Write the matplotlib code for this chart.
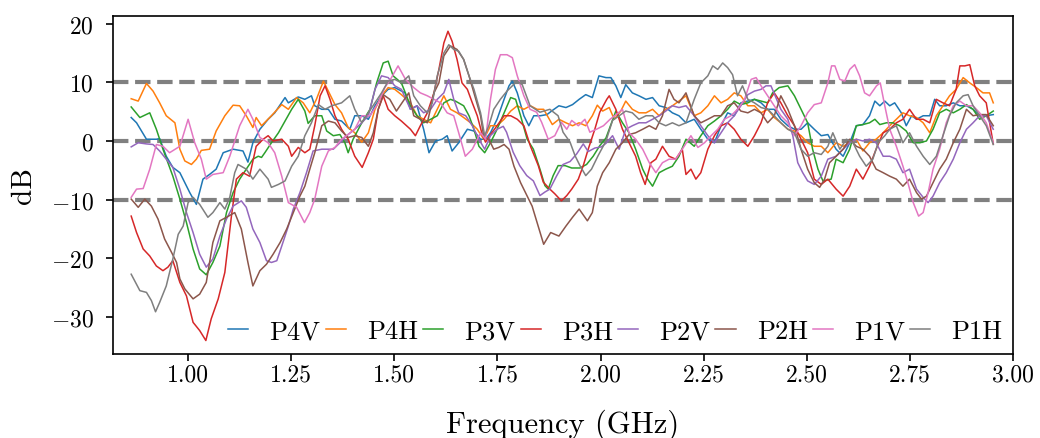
import matplotlib
matplotlib.use("Agg")
import matplotlib.pyplot as plt

plt.rcParams['font.family'] = 'serif'
plt.rcParams['font.serif'] = ['cmr10']
plt.rcParams['mathtext.fontset'] = 'cm'
plt.rcParams['axes.formatter.use_mathtext'] = True
plt.rcParams['axes.unicode_minus'] = True

labels = ["P4V", "P4H", "P3V", "P3H", "P2V", "P2H", "P1V", "P1H"]
colors = ["C0", "C1", "C2", "C3", "C4", "C5", "C6", "C7"]
x_ticks = [1.00, 1.25, 1.50, 1.75, 2.00, 2.25, 2.50, 2.75, 3.00]
y_ticks = [-30, -20, -10, 0, 10, 20]
ref_levels = [-10, 0, 10]

# (frequency GHz, dB) pairs
p4v = [(0.862,4.0),(0.875,3.1),(0.899,0.3),(0.923,0.3),(0.931,0.4),(0.947,-2.6),(0.963,-4.5),(0.980,-5.4),(1.004,-8.8),(1.020,-10.8),(1.036,-6.5),(1.052,-5.7),(1.068,-4.8),(1.085,-2.0),(1.109,-1.4),(1.133,-1.7),(1.145,-3.6),(1.157,-0.3),(1.174,2.0),(1.194,3.7),(1.210,4.8),(1.235,7.4),(1.243,6.5),(1.267,7.5),(1.283,7.1),(1.299,7.7),(1.307,6.0),(1.324,5.4),(1.340,5.4),(1.356,3.7),(1.372,3.4),(1.392,2.0),(1.404,4.3),(1.421,4.3),(1.437,3.7),(1.453,6.0),(1.469,7.7),(1.485,8.8),(1.501,9.1),(1.526,8.2),(1.539,5.4),(1.555,6.0),(1.571,2.0),(1.584,-2.0),(1.600,0.0),(1.616,0.3),(1.628,0.9),(1.640,-1.7),(1.656,-0.3),(1.677,2.0),(1.693,1.7),(1.709,0.3),(1.721,0.3),(1.733,1.4),(1.749,3.7),(1.766,7.1),(1.778,9.4),(1.786,10.2),(1.798,8.2),(1.814,4.3),(1.826,2.6),(1.838,4.3),(1.854,4.3),(1.870,4.5),(1.883,5.2),(1.899,6.0),(1.916,5.7),(1.932,6.2),(1.948,7.1),(1.964,7.9),(1.980,7.4),(1.996,11.1),(2.013,10.8),(2.025,10.8),(2.037,9.4),(2.049,7.4),(2.061,9.6),(2.077,8.2),(2.093,7.7),(2.110,7.1),(2.126,7.4),(2.142,6.0),(2.158,5.7),(2.174,4.8),(2.190,4.3),(2.207,3.1),(2.227,3.7),(2.243,2.0),(2.260,0.3),(2.276,-0.3),(2.292,2.6),(2.308,4.8),(2.324,4.3),(2.340,6.5),(2.357,6.8),(2.373,7.1),(2.389,6.5),(2.405,5.4),(2.421,5.4),(2.437,3.7),(2.454,2.6),(2.470,2.0),(2.486,2.0),(2.502,3.1),(2.518,2.0),(2.535,0.9),(2.551,1.1),(2.571,-1.4),(2.588,-2.6),(2.604,-0.3),(2.620,2.6),(2.636,2.8),(2.652,4.3),(2.665,6.8),(2.677,6.0),(2.689,6.8),(2.701,6.0),(2.713,6.5),(2.729,4.8),(2.741,2.6),(2.754,4.3),(2.766,3.7),(2.782,4.3),(2.798,4.3),(2.810,7.1),(2.822,6.0),(2.838,6.0),(2.855,6.5),(2.871,6.0),(2.887,6.0),(2.903,5.4),(2.919,4.3),(2.935,4.3),(2.952,4.5)]

p4h = [(0.862,7.2),(0.879,6.8),(0.899,9.8),(0.915,8.5),(0.931,6.5),(0.947,4.3),(0.968,3.1),(0.980,-1.4),(0.992,-3.4),(1.008,-4.0),(1.020,-3.1),(1.032,-1.6),(1.052,-1.4),(1.068,1.7),(1.089,4.3),(1.109,6.1),(1.125,6.0),(1.141,4.3),(1.157,2.3),(1.165,4.0),(1.178,2.6),(1.202,4.3),(1.227,6.2),(1.243,5.4),(1.263,7.4),(1.279,6.5),(1.295,4.8),(1.311,7.1),(1.328,10.2),(1.340,8.5),(1.356,6.2),(1.372,4.8),(1.388,2.3),(1.404,1.4),(1.421,-0.2),(1.437,1.4),(1.453,5.4),(1.469,7.7),(1.485,9.1),(1.501,8.8),(1.517,7.9),(1.539,6.5),(1.555,4.3),(1.571,3.7),(1.588,3.1),(1.604,5.4),(1.620,7.7),(1.636,5.4),(1.652,4.8),(1.668,4.0),(1.685,3.1),(1.701,2.0),(1.717,0.3),(1.733,2.6),(1.749,2.6),(1.766,3.7),(1.782,5.1),(1.798,6.0),(1.814,5.4),(1.830,6.0),(1.846,5.4),(1.862,5.4),(1.883,2.8),(1.899,3.7),(1.916,3.1),(1.932,2.6),(1.948,3.1),(1.964,2.6),(1.980,4.3),(1.992,6.1),(2.005,5.1),(2.021,5.7),(2.033,3.7),(2.049,5.1),(2.061,6.8),(2.077,5.4),(2.093,4.8),(2.110,4.8),(2.126,5.4),(2.142,4.3),(2.158,5.4),(2.174,6.0),(2.190,6.8),(2.207,7.7),(2.227,4.3),(2.243,4.8),(2.260,6.0),(2.276,7.7),(2.292,6.5),(2.308,7.1),(2.324,8.2),(2.340,7.7),(2.357,6.0),(2.373,6.0),(2.389,4.8),(2.405,5.4),(2.421,4.0),(2.437,3.1),(2.454,2.0),(2.470,1.7),(2.486,0.9),(2.502,-0.3),(2.518,-0.9),(2.535,-0.9),(2.551,-2.0),(2.571,-0.3),(2.588,-0.9),(2.604,-0.3),(2.620,0.3),(2.636,-1.7),(2.652,-0.3),(2.668,0.3),(2.685,1.4),(2.701,2.6),(2.717,3.7),(2.733,4.8),(2.749,4.3),(2.766,4.0),(2.782,3.1),(2.798,1.4),(2.814,4.3),(2.830,6.0),(2.846,7.7),(2.862,8.8),(2.879,10.8),(2.895,9.9),(2.911,9.1),(2.927,8.2),(2.943,8.2),(2.952,6.5)]

p3v = [(0.862,5.8),(0.883,4.0),(0.907,4.8),(0.923,2.0),(0.939,-1.4),(0.963,-6.0),(0.980,-9.9),(0.996,-13.9),(1.012,-18.4),(1.028,-21.8),(1.044,-22.8),(1.060,-20.7),(1.077,-17.9),(1.093,-12.2),(1.109,-8.8),(1.125,-6.5),(1.141,-4.8),(1.157,-3.1),(1.170,-2.6),(1.178,-2.8),(1.186,-2.0),(1.202,-0.3),(1.219,1.4),(1.235,3.4),(1.251,5.4),(1.267,7.1),(1.283,5.1),(1.291,3.0),(1.307,4.3),(1.324,4.3),(1.336,1.7),(1.352,0.9),(1.368,1.1),(1.380,-0.3),(1.388,-2.0),(1.400,0.3),(1.421,3.1),(1.441,5.4),(1.457,9.9),(1.473,13.3),(1.485,13.6),(1.497,11.1),(1.517,9.9),(1.539,6.0),(1.555,4.3),(1.571,3.1),(1.588,3.7),(1.604,4.3),(1.620,6.5),(1.636,7.1),(1.648,6.8),(1.668,6.0),(1.681,4.3),(1.693,2.0),(1.705,-0.9),(1.719,-2.0),(1.733,-0.3),(1.749,2.0),(1.766,4.8),(1.782,7.4),(1.794,7.1),(1.806,4.3),(1.822,0.3),(1.837,-1.4),(1.853,-4.8),(1.865,-7.6),(1.873,-8.2),(1.885,-5.9),(1.897,-4.2),(1.914,-4.2),(1.930,-4.6),(1.950,-4.6),(1.966,-4.0),(1.982,-2.6),(1.998,-0.8),(2.013,0.5),(2.025,2.8),(2.037,5.1),(2.053,3.1),(2.069,1.4),(2.085,-1.4),(2.102,-4.8),(2.114,-6.5),(2.126,-7.7),(2.142,-5.4),(2.158,-4.8),(2.174,-4.3),(2.190,-2.6),(2.207,0.3),(2.227,-0.9),(2.243,0.9),(2.260,2.6),(2.276,3.4),(2.292,4.3),(2.308,5.4),(2.324,6.8),(2.340,6.2),(2.357,6.5),(2.373,7.1),(2.389,6.8),(2.405,6.5),(2.417,8.2),(2.433,9.1),(2.454,9.4),(2.470,7.7),(2.486,5.4),(2.502,3.1),(2.514,-1.4),(2.527,-4.8),(2.539,-6.8),(2.559,-6.5),(2.571,-3.1),(2.588,-3.7),(2.604,-1.4),(2.620,2.6),(2.636,2.8),(2.652,3.1),(2.665,3.7),(2.677,2.8),(2.693,3.1),(2.709,3.1),(2.725,2.6),(2.741,1.7),(2.758,-0.3),(2.774,-0.3),(2.790,0.0),(2.806,2.0),(2.822,4.8),(2.838,5.4),(2.855,4.8),(2.871,5.4),(2.887,6.2),(2.903,5.4),(2.919,3.7),(2.935,4.3),(2.952,5.1)]

p3h = [(0.862,-12.8),(0.875,-15.6),(0.891,-18.4),(0.907,-19.6),(0.923,-21.3),(0.939,-22.1),(0.951,-21.5),(0.963,-20.4),(0.980,-24.1),(0.996,-26.4),(1.012,-30.9),(1.028,-32.3),(1.043,-34.0),(1.056,-30.3),(1.073,-26.9),(1.089,-22.4),(1.105,-12.8),(1.117,-6.5),(1.133,-5.4),(1.149,-6.0),(1.165,-0.9),(1.182,0.3),(1.194,0.9),(1.206,0.0),(1.227,0.3),(1.243,-0.9),(1.251,-2.6),(1.267,-1.1),(1.283,-2.0),(1.295,-1.4),(1.307,2.6),(1.320,7.7),(1.332,9.4),(1.344,7.1),(1.356,4.3),(1.372,2.0),(1.388,0.3),(1.404,-2.6),(1.422,-4.5),(1.437,-2.0),(1.449,0.3),(1.461,5.4),(1.473,7.7),(1.485,5.4),(1.501,4.3),(1.517,3.4),(1.539,2.0),(1.551,0.9),(1.563,2.6),(1.580,4.8),(1.596,8.2),(1.608,12.2),(1.620,16.7),(1.630,18.7),(1.640,17.0),(1.652,13.9),(1.664,9.9),(1.677,8.8),(1.689,6.5),(1.701,4.3),(1.713,1.1),(1.721,-0.2),(1.733,1.1),(1.749,2.6),(1.766,4.3),(1.782,4.3),(1.798,3.7),(1.814,2.6),(1.830,-0.9),(1.849,-4.2),(1.861,-7.0),(1.877,-8.2),(1.889,-9.0),(1.905,-10.2),(1.918,-9.3),(1.930,-8.2),(1.946,-6.5),(1.958,-4.2),(1.970,-1.4),(1.986,2.0),(1.998,4.9),(2.015,7.1),(2.021,7.7),(2.037,5.4),(2.053,2.0),(2.069,-0.3),(2.085,-2.6),(2.097,-5.4),(2.108,-7.4),(2.122,-3.7),(2.134,-3.1),(2.150,-0.9),(2.166,-2.6),(2.182,-3.1),(2.198,-1.4),(2.207,-5.7),(2.219,-4.8),(2.231,-6.5),(2.243,-5.4),(2.260,-1.4),(2.276,0.9),(2.292,2.6),(2.308,3.1),(2.324,2.0),(2.340,0.3),(2.357,-0.9),(2.373,0.9),(2.389,3.1),(2.405,6.5),(2.421,8.2),(2.437,6.5),(2.454,4.3),(2.470,2.6),(2.486,0.3),(2.502,-2.0),(2.518,-6.5),(2.535,-7.4),(2.551,-6.5),(2.571,-8.2),(2.588,-9.4),(2.604,-7.7),(2.620,-4.8),(2.636,-6.5),(2.652,-4.3),(2.668,-1.4),(2.685,1.4),(2.701,2.0),(2.717,3.1),(2.733,3.7),(2.749,5.4),(2.766,3.7),(2.782,3.7),(2.798,3.1),(2.814,7.1),(2.830,6.5),(2.846,6.0),(2.862,8.8),(2.871,12.8),(2.883,12.8),(2.895,13.0),(2.907,9.4),(2.919,7.7),(2.935,6.5),(2.952,-0.5)]

p2v = [(0.862,-1.0),(0.879,-0.3),(0.899,-0.5),(0.915,-0.6),(0.931,-1.7),(0.947,-3.1),(0.963,-4.5),(0.980,-8.2),(0.996,-12.2),(1.012,-15.6),(1.028,-19.3),(1.044,-21.5),(1.060,-20.1),(1.077,-16.2),(1.093,-13.3),(1.109,-11.1),(1.129,-10.2),(1.141,-11.3),(1.157,-15.0),(1.174,-17.3),(1.190,-20.4),(1.202,-20.7),(1.215,-20.4),(1.227,-17.9),(1.243,-14.5),(1.255,-11.6),(1.271,-8.8),(1.287,-5.4),(1.303,-1.7),(1.324,-1.4),(1.336,-1.4),(1.352,-1.4),(1.368,-0.3),(1.384,0.9),(1.404,2.0),(1.421,3.1),(1.437,4.3),(1.453,8.8),(1.469,11.1),(1.485,10.8),(1.501,9.4),(1.517,8.8),(1.539,5.4),(1.555,6.0),(1.571,4.8),(1.588,5.4),(1.604,7.1),(1.620,8.2),(1.632,10.5),(1.644,7.1),(1.656,4.8),(1.673,4.3),(1.689,2.6),(1.705,0.3),(1.719,-1.4),(1.733,0.9),(1.749,2.0),(1.764,2.5),(1.772,1.5),(1.788,-1.9),(1.804,-4.2),(1.821,-5.9),(1.837,-6.8),(1.853,-9.3),(1.865,-8.7),(1.877,-8.2),(1.893,-6.0),(1.909,-4.0),(1.926,-3.5),(1.942,-2.2),(1.958,-0.5),(1.970,-1.8),(1.986,-1.2),(2.002,-1.0),(2.013,-0.4),(2.029,0.9),(2.045,-1.4),(2.061,2.0),(2.077,2.6),(2.093,3.1),(2.110,3.1),(2.126,3.7),(2.142,4.3),(2.158,5.1),(2.174,6.0),(2.190,5.7),(2.207,6.0),(2.227,4.3),(2.243,2.6),(2.260,0.9),(2.276,-0.3),(2.292,1.4),(2.308,3.1),(2.324,4.3),(2.340,6.0),(2.357,7.9),(2.373,8.5),(2.389,8.8),(2.401,9.4),(2.413,9.4),(2.425,7.4),(2.437,5.4),(2.454,3.7),(2.466,0.9),(2.478,-3.7),(2.490,-5.4),(2.502,-6.8),(2.518,-7.4),(2.535,-6.0),(2.551,-3.1),(2.571,-2.6),(2.588,-1.4),(2.604,-0.3),(2.620,0.3),(2.636,0.0),(2.652,0.3),(2.668,-0.3),(2.685,-2.6),(2.701,-2.6),(2.717,-3.1),(2.733,-5.4),(2.749,-4.8),(2.766,-8.2),(2.782,-9.6),(2.794,-10.5),(2.806,-9.4),(2.822,-7.1),(2.838,-5.4),(2.855,-3.1),(2.871,-0.3),(2.887,2.0),(2.903,3.1),(2.919,4.3),(2.935,4.3),(2.952,2.0)]

p2h = [(0.862,-9.9),(0.879,-11.3),(0.895,-9.9),(0.911,-11.1),(0.927,-13.3),(0.943,-16.7),(0.960,-19.0),(0.972,-20.7),(0.980,-23.5),(0.992,-25.2),(1.012,-26.9),(1.028,-26.1),(1.044,-24.1),(1.060,-17.3),(1.077,-13.6),(1.093,-13.0),(1.113,-12.2),(1.129,-15.0),(1.145,-20.7),(1.157,-24.7),(1.174,-22.1),(1.190,-21.0),(1.206,-19.3),(1.223,-17.3),(1.239,-15.0),(1.255,-12.2),(1.271,-9.4),(1.283,-7.7),(1.295,-4.8),(1.307,-2.0),(1.324,2.6),(1.340,3.4),(1.356,3.1),(1.372,1.7),(1.388,0.6),(1.404,0.9),(1.421,0.6),(1.437,-0.9),(1.449,1.4),(1.461,5.4),(1.473,7.9),(1.489,7.1),(1.505,5.1),(1.535,8.2),(1.547,4.3),(1.563,3.7),(1.580,3.1),(1.596,8.2),(1.608,9.9),(1.620,14.5),(1.636,16.2),(1.652,15.6),(1.668,13.9),(1.681,11.1),(1.693,8.2),(1.709,4.3),(1.717,0.6),(1.729,0.3),(1.741,-1.4),(1.753,-1.1),(1.766,-0.6),(1.778,-1.4),(1.790,-4.3),(1.806,-7.1),(1.822,-9.4),(1.834,-11.1),(1.846,-13.9),(1.862,-17.6),(1.879,-15.6),(1.899,-16.2),(1.916,-14.5),(1.932,-13.0),(1.948,-11.6),(1.968,-13.6),(1.980,-12.2),(1.992,-7.7),(2.005,-5.4),(2.021,-3.7),(2.037,-1.4),(2.053,-0.3),(2.069,1.1),(2.085,1.4),(2.102,2.0),(2.118,2.6),(2.134,2.0),(2.150,4.3),(2.166,8.8),(2.178,7.1),(2.190,6.5),(2.207,8.2),(2.227,4.3),(2.243,3.1),(2.260,3.7),(2.276,4.3),(2.292,4.3),(2.308,6.0),(2.324,6.5),(2.340,5.1),(2.357,4.8),(2.373,5.4),(2.389,4.8),(2.405,3.1),(2.421,4.3),(2.437,7.7),(2.454,5.4),(2.470,2.6),(2.486,-1.4),(2.502,-4.8),(2.518,-7.1),(2.531,-7.9),(2.543,-6.5),(2.555,-3.7),(2.571,-2.6),(2.588,-1.4),(2.604,0.3),(2.620,-0.9),(2.636,-1.4),(2.652,-2.6),(2.668,-4.8),(2.685,-5.4),(2.701,-6.0),(2.717,-6.5),(2.733,-7.7),(2.749,-6.5),(2.766,-8.8),(2.778,-9.9),(2.790,-9.4),(2.806,-7.1),(2.822,-4.8),(2.838,-3.1),(2.855,-0.3),(2.871,2.0),(2.887,5.4),(2.903,4.3),(2.919,4.5),(2.935,4.5),(2.952,2.6)]

p1v = [(0.862,-9.6),(0.875,-8.2),(0.891,-8.1),(0.907,-4.8),(0.923,-0.6),(0.939,-0.9),(0.955,-2.0),(0.980,-0.9),(1.000,3.7),(1.016,-0.3),(1.032,-3.1),(1.044,-6.5),(1.060,-5.7),(1.085,-5.4),(1.101,-2.6),(1.125,2.6),(1.145,5.4),(1.157,3.7),(1.174,0.6),(1.194,-0.3),(1.210,-2.0),(1.227,-6.0),(1.243,-10.5),(1.263,-11.3),(1.282,-13.9),(1.295,-12.2),(1.307,-9.9),(1.324,-4.3),(1.340,-1.7),(1.356,-1.1),(1.372,0.3),(1.388,1.1),(1.404,2.0),(1.421,4.3),(1.441,4.3),(1.461,6.5),(1.477,9.1),(1.493,10.8),(1.509,12.8),(1.527,10.5),(1.547,9.1),(1.563,8.2),(1.580,7.7),(1.596,7.1),(1.612,6.5),(1.628,4.8),(1.644,4.3),(1.656,1.4),(1.672,-2.6),(1.689,-1.4),(1.709,1.4),(1.721,0.3),(1.733,7.1),(1.745,12.2),(1.757,14.7),(1.773,14.7),(1.786,14.2),(1.798,11.1),(1.814,7.7),(1.829,5.4),(1.845,4.9),(1.857,3.2),(1.873,0.3),(1.889,0.9),(1.905,3.2),(1.918,2.0),(1.930,3.5),(1.946,2.6),(1.962,3.7),(1.974,1.5),(1.990,2.0),(2.007,2.6),(2.023,3.7),(2.038,4.5),(2.053,5.4),(2.069,1.4),(2.085,0.3),(2.102,-1.4),(2.118,-3.7),(2.134,-5.4),(2.150,-3.7),(2.166,-3.1),(2.182,-3.1),(2.198,-1.4),(2.219,0.9),(2.236,-1.1),(2.252,-0.3),(2.268,0.9),(2.284,2.0),(2.300,3.7),(2.316,4.3),(2.332,5.4),(2.349,7.1),(2.365,10.5),(2.377,10.8),(2.389,9.4),(2.405,7.7),(2.421,6.0),(2.437,4.3),(2.454,3.1),(2.470,0.9),(2.486,2.6),(2.502,4.8),(2.518,6.2),(2.535,6.5),(2.551,9.9),(2.560,12.8),(2.568,12.8),(2.580,10.5),(2.592,10.2),(2.604,12.2),(2.616,13.0),(2.628,11.1),(2.640,8.2),(2.652,7.7),(2.669,9.4),(2.678,9.9),(2.689,6.0),(2.701,2.0),(2.717,-0.9),(2.733,-4.3),(2.745,-7.1),(2.758,-10.5),(2.771,-12.8),(2.782,-12.2),(2.794,-8.8),(2.806,-4.8),(2.822,-1.4),(2.838,3.1),(2.855,6.0),(2.871,6.8),(2.887,6.0),(2.903,6.0),(2.919,4.8),(2.935,3.1),(2.952,-0.3)]

p1h = [(0.862,-22.7),(0.883,-25.5),(0.899,-25.8),(0.911,-27.2),(0.921,-29.1),(0.931,-27.5),(0.947,-24.7),(0.963,-20.1),(0.976,-15.9),(0.988,-14.5),(1.000,-10.5),(1.012,-9.6),(1.028,-10.8),(1.048,-13.0),(1.060,-12.2),(1.077,-10.5),(1.089,-11.6),(1.101,-9.6),(1.113,-5.4),(1.121,-4.0),(1.141,-4.8),(1.157,-6.5),(1.174,-4.8),(1.194,-6.5),(1.202,-7.9),(1.219,-7.4),(1.235,-6.8),(1.251,-4.3),(1.267,-2.6),(1.283,0.9),(1.299,3.1),(1.316,6.2),(1.332,5.4),(1.348,6.0),(1.372,6.5),(1.392,7.7),(1.404,5.4),(1.421,3.1),(1.437,4.8),(1.453,6.5),(1.469,8.2),(1.485,10.2),(1.501,10.5),(1.517,9.9),(1.535,11.1),(1.547,7.7),(1.563,6.0),(1.580,4.8),(1.592,6.5),(1.604,11.1),(1.620,15.0),(1.632,16.4),(1.644,15.6),(1.656,15.3),(1.668,13.9),(1.681,11.1),(1.693,8.8),(1.709,4.8),(1.719,0.9),(1.729,2.6),(1.741,5.4),(1.757,7.1),(1.773,8.5),(1.786,9.4),(1.798,10.2),(1.810,9.6),(1.829,6.0),(1.853,4.9),(1.877,5.4),(1.897,4.3),(1.909,1.5),(1.926,-0.2),(1.938,-2.5),(1.950,-4.2),(1.964,-5.9),(1.978,-4.8),(1.994,-2.5),(2.013,0.0),(2.029,3.5),(2.045,4.3),(2.061,5.1),(2.077,4.8),(2.093,3.7),(2.110,4.3),(2.126,4.3),(2.142,3.1),(2.158,2.6),(2.174,3.1),(2.190,2.6),(2.207,3.1),(2.227,7.1),(2.243,9.9),(2.260,11.1),(2.272,12.8),(2.284,12.2),(2.296,13.3),(2.308,12.5),(2.320,11.3),(2.332,7.7),(2.344,9.4),(2.357,7.1),(2.373,6.5),(2.389,5.7),(2.405,5.4),(2.421,4.3),(2.437,3.1),(2.454,2.0),(2.470,1.4),(2.486,-1.4),(2.502,-2.6),(2.518,-2.0),(2.535,-2.3),(2.551,-0.9),(2.563,1.4),(2.580,-1.4),(2.596,0.3),(2.612,-0.3),(2.628,-2.6),(2.644,-4.3),(2.660,-3.1),(2.673,-0.3),(2.689,0.9),(2.701,2.0),(2.717,2.6),(2.733,-0.3),(2.749,1.4),(2.766,-0.9),(2.782,-2.6),(2.798,-4.0),(2.814,-2.6),(2.830,0.9),(2.846,4.3),(2.862,6.5),(2.879,7.7),(2.891,7.9),(2.903,6.0),(2.919,4.3),(2.935,2.6),(2.952,-0.6)]

series = [p4v, p4h, p3v, p3h, p2v, p2h, p1v, p1h]

fig = plt.figure(figsize=(10.4, 4.39), dpi=100)
ax = fig.add_axes([0.1087, 0.1913, 0.8654, 0.77])

for lvl in ref_levels:
    ax.axhline(lvl, color='gray', linestyle='--', linewidth=3, zorder=1)

for data, lab, col in zip(series, labels, colors):
    f = [p[0] for p in data]
    d = [p[1] for p in data]
    ax.plot(f, d, color=col, linewidth=1.1, label=lab, zorder=2)

ax.set_xlim(0.818, 3.0)
ax.set_ylim(-36.3, 21.3)
ax.set_xticks(x_ticks)
ax.set_xticklabels([f"{t:.2f}" for t in x_ticks])
ax.set_yticks(y_ticks)
ax.tick_params(labelsize=17, length=5, width=1.2)
ax.tick_params(axis='x', pad=2)
ax.tick_params(axis='y', pad=9)
for s in ax.spines.values():
    s.set_linewidth(1.2)
ax.set_xlabel("Frequency (GHz)", fontsize=22, labelpad=16)
ax.set_ylabel("dB", fontsize=21, labelpad=10)

ax.legend(loc='lower right', ncol=8, frameon=False, fontsize=19,
          handlelength=0.76, handletextpad=0.8, columnspacing=0.2,
          borderaxespad=0.1, borderpad=0.3)

fig.savefig("out.png", dpi=100)
